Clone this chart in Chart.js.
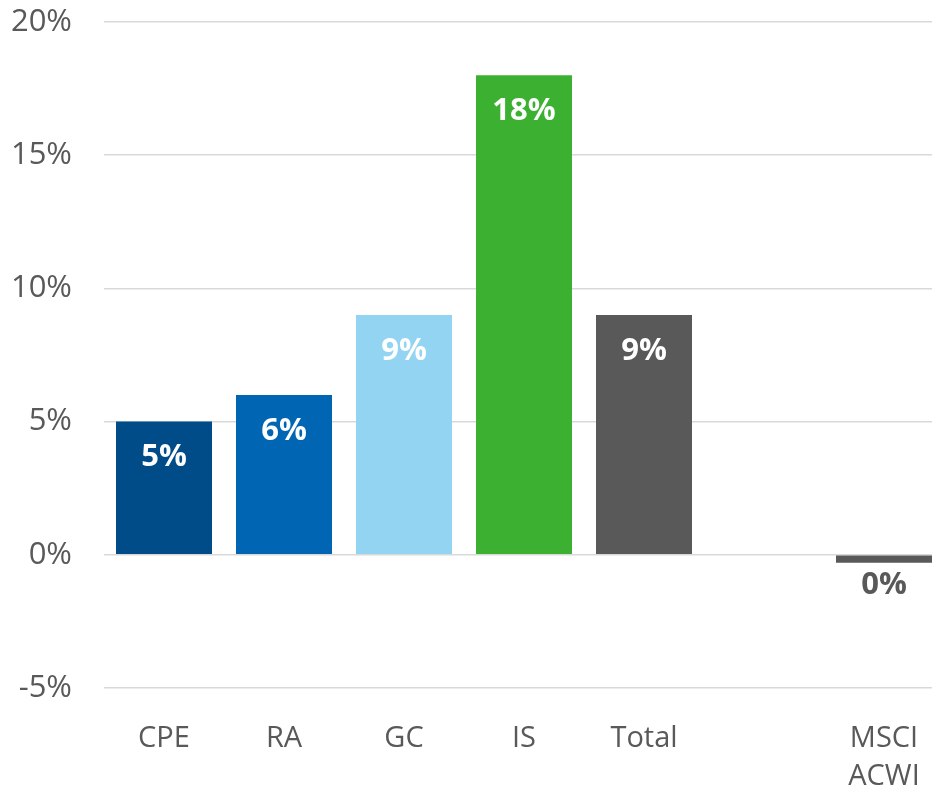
<!DOCTYPE html>
<html lang="en">
<head>
  <meta charset="UTF-8" />
  <title>Returns by strategy</title>
  <script src="https://cdn.jsdelivr.net/npm/chart.js"></script>
  <style>
    html, body { margin: 0; padding: 0; background: #fff; overflow: hidden; }
    #wrap { width: 932px; height: 790px; overflow: hidden; }
    canvas { display: block; }
  </style>
</head>
<body>
  <div id="wrap"><canvas id="chart" width="944" height="790"></canvas></div>

  <script>
    const categories = ["CPE", "RA", "GC", "IS", "Total", "", ["MSCI", "ACWI"]];
    const values = [5, 6, 9, 18, 9, null, -0.3];
    const barColors = ["#004c89", "#0066b3", "#92d4f2", "#3cb031", "#595959", "#595959", "#595959"];
    const yTicks = [-5, 0, 5, 10, 15, 20];

    const fontFamily = "'Open Sans', 'Noto Sans', sans-serif";
    const grey = "#595959";

    // value labels: inside the bar top for positives, below for negatives
    const valueLabels = {
      id: "valueLabels",
      afterDatasetsDraw(chart) {
        const ctx = chart.ctx;
        const meta = chart.getDatasetMeta(0);
        ctx.save();
        ctx.font = `bold 31px ${fontFamily}`;
        ctx.textAlign = "center";
        ctx.textBaseline = "middle";
        meta.data.forEach((bar, i) => {
          const v = values[i];
          if (v === null) return;
          const text = `${Math.round(v)}%`;
          if (v >= 0) {
            ctx.fillStyle = "#ffffff";
            ctx.fillText(text, bar.x, bar.y + 36);
          } else {
            ctx.fillStyle = grey;
            ctx.fillText(text, bar.x, bar.y + 22);
          }
        });
        ctx.restore();
      }
    };

    new Chart(document.getElementById("chart").getContext("2d"), {
      type: "bar",
      data: {
        labels: categories,
        datasets: [{
          data: values,
          backgroundColor: barColors,
          barPercentage: 0.8,
          categoryPercentage: 1.0
        }]
      },
      options: {
        responsive: false,
        animation: false,
        layout: { padding: { top: 22, left: 0, right: 0, bottom: 0 } },
        plugins: {
          legend: { display: false },
          tooltip: { enabled: false }
        },
        scales: {
          x: {
            grid: { display: false, drawTicks: false },
            border: { display: false },
            ticks: {
              color: grey,
              font: { family: fontFamily, size: 29, lineHeight: 1.3 },
              padding: 32,
              maxRotation: 0,
              autoSkip: false
            },
            afterFit(axis) {
              axis.height = 102;
              axis.paddingLeft = 0;
              axis.paddingRight = 0;
            }
          },
          y: {
            min: -5,
            max: 20,
            afterBuildTicks(axis) { axis.ticks = yTicks.map(v => ({ value: v })); },
            grid: { color: "#d9d9d9", lineWidth: 1.5, drawTicks: false },
            border: { display: false },
            ticks: {
              color: grey,
              font: { family: fontFamily, size: 31 },
              padding: 32,
              callback: v => `${v}%`
            },
            afterFit(axis) {
              axis.width = 104;
              axis.paddingTop = 0;
              axis.paddingBottom = 0;
            }
          }
        }
      },
      plugins: [valueLabels]
    });
  </script>
</body>
</html>
